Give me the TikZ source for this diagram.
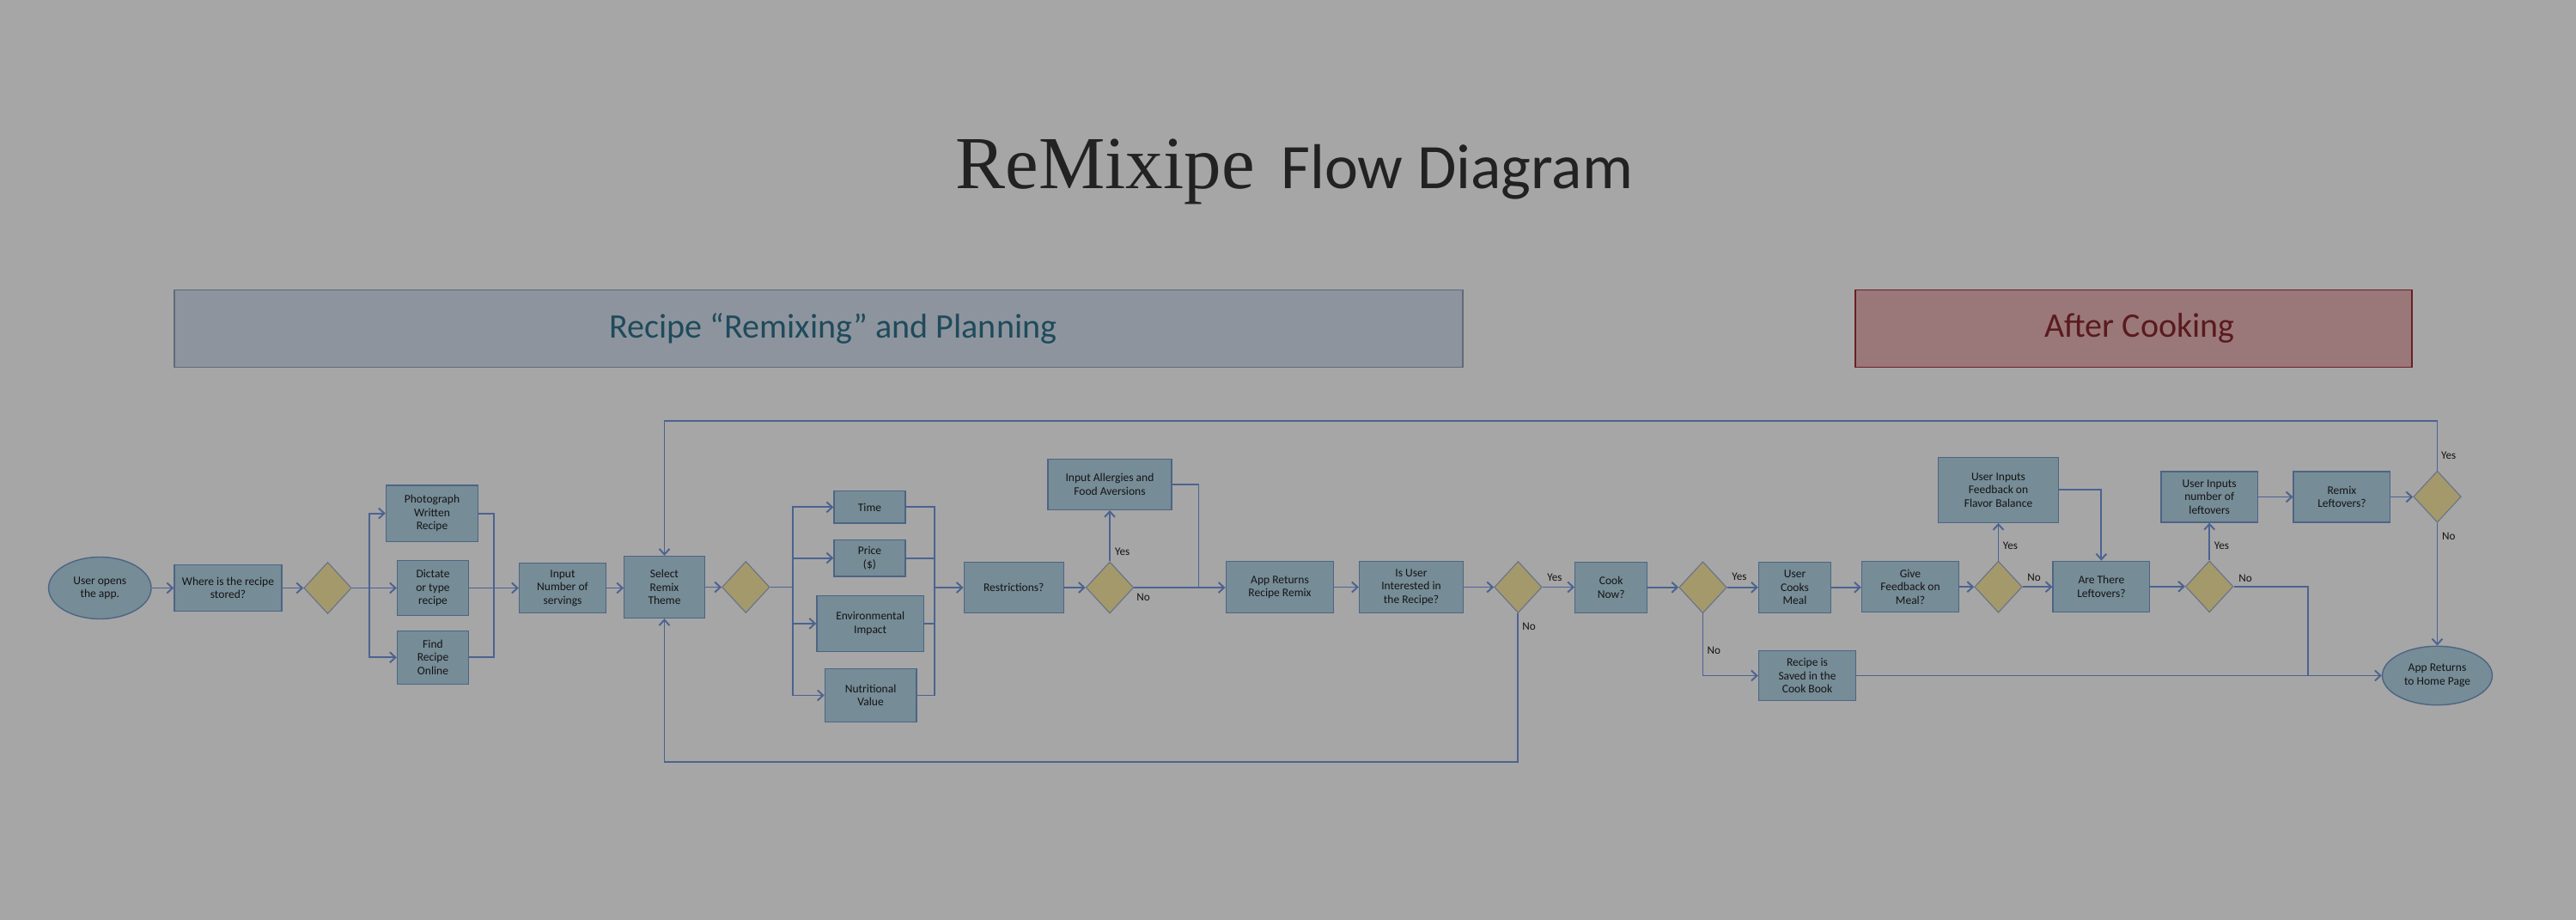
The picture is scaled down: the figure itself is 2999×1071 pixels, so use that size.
\documentclass[tikz,border=0pt]{standalone}
\usepackage{fontspec}
\setmainfont{Carlito}
\newfontfamily\serifT{Liberation Serif}
\usetikzlibrary{shapes.geometric,arrows.meta}
\definecolor{bg}{HTML}{A6A6A6}
\definecolor{boxfill}{HTML}{768C97}
\definecolor{boxline}{HTML}{4D6584}
\definecolor{diafill}{HTML}{A3996B}
\definecolor{dialine}{HTML}{67708A}
\definecolor{lineC}{HTML}{4B6390}
\definecolor{txt}{HTML}{141414}
\definecolor{titleC}{HTML}{222222}
\definecolor{hAfill}{HTML}{8E949D}
\definecolor{hAline}{HTML}{5E6B79}
\definecolor{hAtext}{HTML}{1E4B5C}
\definecolor{hBfill}{HTML}{9A7879}
\definecolor{hBline}{HTML}{6A1F24}
\definecolor{hBtext}{HTML}{5A1A1E}
\newcommand\bxfont{\fontsize{7.7pt}{8.8pt}\selectfont}
\newcommand\lbfont{\fontsize{7.5pt}{8.5pt}\selectfont}
\tikzset{
  box/.style={rectangle, draw=boxline, fill=boxfill, line width=0.8pt, align=center,
    inner sep=1pt, text=txt, font=\bxfont},
  oval/.style={ellipse, draw=boxline, fill=boxfill, line width=0.8pt, align=center,
    inner sep=0pt, text=txt, font=\bxfont},
  dia/.style={diamond, draw=dialine, fill=diafill, line width=0.6pt, inner sep=0pt,
    minimum width=1.11cm, minimum height=1.2cm},
  conn/.style={draw=lineC, line width=1.1pt},
  arr/.style={conn, -{Straight Barb[length=0.13cm,width=0.24cm]}},
  lab/.style={font=\lbfont, text=txt, inner sep=0pt},
  hdr/.style={rectangle, line width=0.9pt, inner sep=0pt, minimum height=1.8cm},
  hdrtext/.style={inner sep=0pt, font=\fontsize{22.8pt}{26pt}\selectfont},
}
\begin{document}
\begin{tikzpicture}[x=0.02cm,y=-0.02cm]
\useasboundingbox (0,0) rectangle (2999,1071);
\fill[bg] (0,0) rectangle (2999,1071);

% title
\node[anchor=base west, inner sep=0pt, text=titleC, font=\serifT\fontsize{49.5pt}{55pt}\selectfont] (t1) at (1112.5,219.3) {ReMixipe};
\node[anchor=base west, inner sep=0pt, text=titleC, font=\fontsize{42pt}{48pt}\selectfont] (t2) at (1491,219.3) {Flow Diagram};

% headers
\node[hdr, draw=hAline, fill=hAfill, minimum width=30cm] (hA) at (953,382.3) {};
\node[hdrtext, text=hAtext] (hAt) at (970,382.3) {Recipe “Remixing” and Planning};
\node[hdr, draw=hBline, fill=hBfill, minimum width=12.96cm] (hB) at (2484,382.3) {};
\node[hdrtext, text=hBtext] (hBt) at (2491,382.3) {After Cooking};

% nodes
\node[oval, minimum width=2.39cm, minimum height=1.44cm] (start) at (116.3,684.5) {User opens\\the app.};
\node[box, minimum width=2.5cm, minimum height=1.08cm] (where) at (265.5,684.5) {Where is the recipe\\stored?};
\node[dia] (d1) at (381.5,684.5) {};
\node[box, minimum width=2.14cm, minimum height=1.31cm] (photo) at (503,597.6) {Photograph\\Written\\Recipe};
\node[box, minimum width=1.66cm, minimum height=1.29cm] (dict) at (504,684.5) {Dictate\\or type\\recipe};
\node[box, minimum width=1.66cm, minimum height=1.24cm] (find) at (504,765.3) {Find\\Recipe\\Online};
\node[box, minimum width=2.02cm, minimum height=1.17cm] (input) at (655,684.5) {Input\\Number of\\servings};
\node[box, minimum width=1.87cm, minimum height=1.44cm] (select) at (773.5,683.5) {Select\\Remix\\Theme};
\node[dia] (d2) at (868.3,683.5) {};
\node[box, minimum width=1.66cm, minimum height=0.75cm] (time) at (1012.5,590.4) {Time};
\node[box, minimum width=1.66cm, minimum height=0.85cm] (price) at (1012.5,649.6) {Price\\(\$)};
\node[box, minimum width=2.49cm, minimum height=1.3cm] (env) at (1013.2,725.9) {Environmental\\Impact};
\node[box, minimum width=2.13cm, minimum height=1.23cm] (nutr) at (1013.6,809.5) {Nutritional\\Value};
\node[box, minimum width=2.32cm, minimum height=1.17cm] (restr) at (1180.3,684) {Restrictions?};
\node[dia] (d3) at (1292,684) {};
\node[box, minimum width=2.88cm, minimum height=1.18cm] (allerg) at (1292,563.8) {Input Allergies and\\Food Aversions};
\node[box, minimum width=2.51cm, minimum height=1.19cm] (appret) at (1490,683.5) {App Returns\\Recipe Remix};
\node[box, minimum width=2.42cm, minimum height=1.19cm] (isuser) at (1643,683.5) {Is User\\Interested in\\the Recipe?};
\node[dia] (d4) at (1767.4,683.5) {};
\node[box, minimum width=1.68cm, minimum height=1.18cm] (cook) at (1875.7,683.8) {Cook\\Now?};
\node[dia] (d5) at (1982.5,683.8) {};
\node[box, minimum width=1.68cm, minimum height=1.18cm] (cooks) at (2089.5,683.8) {User\\Cooks\\Meal};
\node[box, minimum width=2.26cm, minimum height=1.18cm] (feedback) at (2224,683.2) {Give\\Feedback on\\Meal?};
\node[dia] (d6) at (2326.5,683.2) {};
\node[box, minimum width=2.79cm, minimum height=1.52cm] (flavor) at (2326.5,570.3) {User Inputs\\Feedback on\\Flavor Balance};
\node[box, minimum width=2.26cm, minimum height=1.17cm] (saved) at (2104,786.5) {Recipe is\\Saved in the\\Cook Book};
\node[box, minimum width=2.25cm, minimum height=1.18cm] (leftq) at (2446.4,682.8) {Are There\\Leftovers?};
\node[dia] (d8) at (2572.2,682.8) {};
\node[box, minimum width=2.25cm, minimum height=1.18cm] (numleft) at (2572.2,578.5) {User Inputs\\number of\\leftovers};
\node[box, minimum width=2.25cm, minimum height=1.18cm] (remixq) at (2726.4,578.5) {Remix\\Leftovers?};
\node[dia] (d7) at (2837.5,578.2) {};
\node[oval, minimum width=2.56cm, minimum height=1.37cm] (home) at (2837.5,786.5) {App Returns\\to Home Page};

% helper coordinates
\coordinate (b1) at (429.8,684.5);
\coordinate (m1) at (575.3,684.5);
\coordinate (b2) at (923.2,683.5);
\coordinate (m2) at (1088,684);
\coordinate (j1) at (1395.5,683.5);
\coordinate (j2) at (2687.2,786.5);
\coordinate (botY) at (0,886.7);
\coordinate (topY) at (0,490);

% connectors
\draw[arr] (start) -- (where);
\draw[arr] (where) -- (d1);
\draw[conn] (d1.east) -- (b1);
\draw[arr] (b1) |- (photo.west);
\draw[arr] (b1) -- (dict.west);
\draw[arr] (b1) |- (find.west);
\draw[conn] (photo.east) -| (m1);
\draw[conn] (find.east) -| (m1);
\draw[arr] (dict.east) -- (input.west);
\draw[arr] (input.east) -- (input.east -| select.west);
\draw[arr] (select) -- (d2);
\draw[conn] (d2.east) -- (b2);
\draw[arr] (b2) |- (time.west);
\draw[arr] (b2) |- (price.west);
\draw[arr] (b2) |- (env.west);
\draw[arr] (b2) |- (nutr.west);
\draw[conn] (time.east) -| (m2);
\draw[conn] (price.east) -| (m2);
\draw[conn] (env.east) -| (m2);
\draw[conn] (nutr.east) -| (m2);
\draw[arr] (m2) -- (restr.west);
\draw[arr] (restr) -- (d3);
\draw[arr] (d3.north) -- (allerg.south);
\draw[arr] (d3.east) -- (d3.east -| appret.west);
\draw[conn] (allerg.east) -| (j1);
\draw[arr] (appret) -- (isuser);
\draw[arr] (isuser) -- (d4);
\draw[arr] (d4.east) -- (d4.east -| cook.west);
\draw[arr] (d4.south) -- (d4.south |- botY) -| (select.south);
\draw[arr] (cook) -- (d5);
\draw[arr] (d5) -- (cooks);
\draw[arr] (d5.south) |- (saved.west);
\draw[arr] (cooks.east) -- (cooks.east -| feedback.west);
\draw[arr] (feedback) -- (d6);
\draw[arr] (d6.north) -- (flavor.south);
\draw[arr] (d6.east) -- (d6.east -| leftq.west);
\draw[arr] (flavor.east) -| (leftq.north);
\draw[arr] (leftq) -- (d8);
\draw[arr] (d8.north) -- (numleft.south);
\draw[conn] (d8.east) -| (j2);
\draw[arr] (saved.east) -- (home.west);
\draw[arr] (numleft) -- (remixq);
\draw[arr] (remixq.east) -- (remixq.east -| d7.west);
\draw[arr] (d7.north) -- (d7.north |- topY) -| (select.north);
\draw[arr] (d7.south) -- (home.north);

% labels
\node[lab] (l1) at (1306.7,642.7) {Yes};
\node[lab] (l2) at (1331,695) {No};
\node[lab] (l3) at (1810,672.7) {Yes};
\node[lab] (l4) at (1780,729) {No};
\node[lab] (l5) at (2025,671) {Yes};
\node[lab] (l6) at (1995.3,757) {No};
\node[lab] (l7) at (2340.4,635) {Yes};
\node[lab] (l8) at (2368,672.7) {No};
\node[lab] (l9) at (2586.4,635) {Yes};
\node[lab] (l10) at (2614,673) {No};
\node[lab] (l11) at (2850.7,530) {Yes};
\node[lab] (l12) at (2850.7,624) {No};
\end{tikzpicture}
\end{document}
